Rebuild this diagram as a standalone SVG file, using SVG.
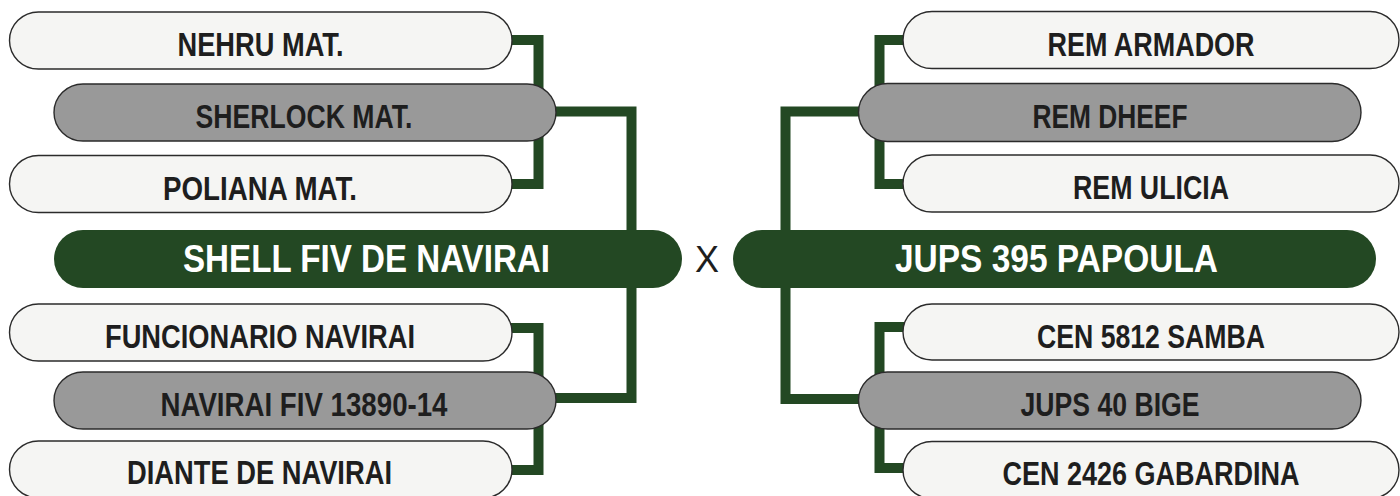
<svg xmlns="http://www.w3.org/2000/svg" width="1400" height="496" viewBox="0 0 1400 496">
  <style>
    .conn { fill: none; stroke: #234823; stroke-width: 10; stroke-linejoin: miter; stroke-linecap: butt; }
    .light { fill: #F5F5F3; stroke: #2b2b2b; stroke-width: 1.4; }
    .grey { fill: #999999; stroke: #2b2b2b; stroke-width: 1.4; }
    .main { fill: #234823; }
    .lbl { font-family: "Liberation Sans Narrow", "Liberation Sans", Arial, sans-serif; font-weight: 700; font-size: 33px; fill: #1e1e1e; text-anchor: middle; }
    .mlbl { font-family: "Liberation Sans Narrow", "Liberation Sans", Arial, sans-serif; font-weight: 700; font-size: 38px; fill: #ffffff; text-anchor: middle; }
    .vs { font-family: "Liberation Sans", Arial, sans-serif; font-weight: 400; font-size: 36px; fill: #1e1e1e; text-anchor: middle; }
  </style>
  <rect width="1400" height="496" fill="#ffffff"/>

  <g id="connectors">
    <path class="conn" d="M500 40 H538.5 V184 H500"/>
    <path class="conn" d="M540 111.5 H631.5 V240"/>
    <path class="conn" d="M631.5 280 V398 H540"/>
    <path class="conn" d="M500 328 H538.5 V470 H500"/>
    <path class="conn" d="M915 40 H879.5 V184 H915"/>
    <path class="conn" d="M870 111.5 H785.5 V240"/>
    <path class="conn" d="M785.5 280 V399 H870"/>
    <path class="conn" d="M915 327 H879.5 V468 H915"/>
  </g>

  <g id="nehru">
    <rect class="light" x="9.5" y="12" width="502.5" height="57" rx="29" ry="28.5"/>
    <text class="lbl" x="260.5" y="56" textLength="166" lengthAdjust="spacingAndGlyphs">NEHRU MAT.</text>
  </g>
  <g id="sherlock">
    <rect class="grey" x="54" y="84" width="502" height="57" rx="29" ry="28.5"/>
    <text class="lbl" x="304" y="127.5" textLength="217" lengthAdjust="spacingAndGlyphs">SHERLOCK MAT.</text>
  </g>
  <g id="poliana">
    <rect class="light" x="9.5" y="155.5" width="502.5" height="57" rx="29" ry="28.5"/>
    <text class="lbl" x="260" y="199.5" textLength="194" lengthAdjust="spacingAndGlyphs">POLIANA MAT.</text>
  </g>
  <g id="shell">
    <rect class="main" x="54" y="230" width="628" height="58" rx="29" ry="29"/>
    <text class="mlbl" x="366.5" y="272" textLength="367" lengthAdjust="spacingAndGlyphs">SHELL FIV DE NAVIRAI</text>
  </g>
  <g id="funcionario">
    <rect class="light" x="9.5" y="304" width="502.5" height="57" rx="29" ry="28.5"/>
    <text class="lbl" x="260" y="347.5" textLength="310" lengthAdjust="spacingAndGlyphs">FUNCIONARIO NAVIRAI</text>
  </g>
  <g id="navirai-fiv">
    <rect class="grey" x="54" y="372" width="502" height="57" rx="29" ry="28.5"/>
    <text class="lbl" x="304" y="415.5" textLength="287" lengthAdjust="spacingAndGlyphs">NAVIRAI FIV 13890-14</text>
  </g>
  <g id="diante">
    <rect class="light" x="9.5" y="441" width="502.5" height="57" rx="29" ry="28.5"/>
    <text class="lbl" x="259.5" y="484" textLength="265" lengthAdjust="spacingAndGlyphs">DIANTE DE NAVIRAI</text>
  </g>

  <g id="versus">
    <text class="vs" x="707" y="272">X</text>
  </g>

  <g id="rem-armador">
    <rect class="light" x="903" y="11.5" width="496" height="57" rx="29" ry="28.5"/>
    <text class="lbl" x="1151" y="55.5" textLength="207" lengthAdjust="spacingAndGlyphs">REM ARMADOR</text>
  </g>
  <g id="rem-dheef">
    <rect class="grey" x="858.5" y="83.5" width="502.5" height="58" rx="29" ry="29"/>
    <text class="lbl" x="1110" y="127.5" textLength="155" lengthAdjust="spacingAndGlyphs">REM DHEEF</text>
  </g>
  <g id="rem-ulicia">
    <rect class="light" x="903" y="155" width="496" height="57" rx="29" ry="28.5"/>
    <text class="lbl" x="1151" y="199" textLength="156" lengthAdjust="spacingAndGlyphs">REM ULICIA</text>
  </g>
  <g id="jups395">
    <rect class="main" x="733" y="230" width="643" height="58" rx="29" ry="29"/>
    <text class="mlbl" x="1056.5" y="272" textLength="323" lengthAdjust="spacingAndGlyphs">JUPS 395 PAPOULA</text>
  </g>
  <g id="cen5812">
    <rect class="light" x="903" y="304" width="496" height="56" rx="29" ry="28"/>
    <text class="lbl" x="1151" y="347.5" textLength="228" lengthAdjust="spacingAndGlyphs">CEN 5812 SAMBA</text>
  </g>
  <g id="jups40">
    <rect class="grey" x="858.5" y="372" width="502.5" height="57" rx="29" ry="28.5"/>
    <text class="lbl" x="1110" y="415.5" textLength="179" lengthAdjust="spacingAndGlyphs">JUPS 40 BIGE</text>
  </g>
  <g id="cen2426">
    <rect class="light" x="903" y="441.5" width="496" height="57" rx="29" ry="28.5"/>
    <text class="lbl" x="1151" y="484.5" textLength="297" lengthAdjust="spacingAndGlyphs">CEN 2426 GABARDINA</text>
  </g>
</svg>
